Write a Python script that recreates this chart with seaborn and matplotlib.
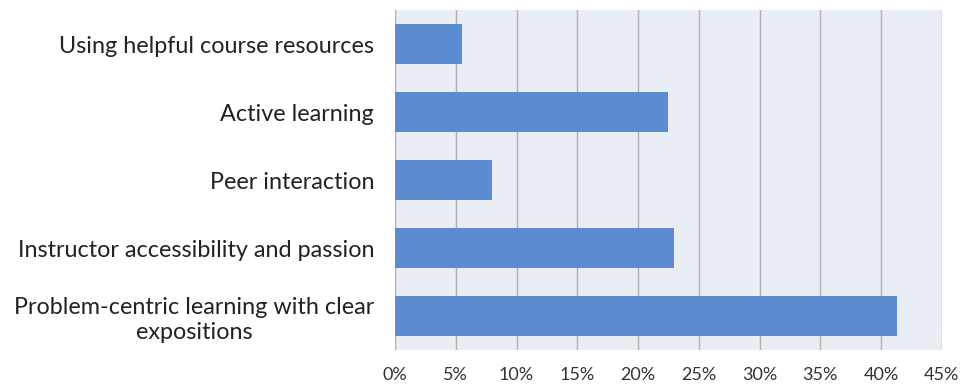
import matplotlib
matplotlib.use("Agg")
import matplotlib.pyplot as plt
import seaborn as sns
import pandas as pd

categories = [
    "Using helpful course resources",
    "Active learning",
    "Peer interaction",
    "Instructor accessibility and passion",
    "Problem-centric learning with clear\nexpositions",
]
values = [5.5, 22.5, 8.0, 23.0, 41.3]
xticks = [0, 5, 10, 15, 20, 25, 30, 35, 40, 45]
xticklabels = [f"{t}%" for t in xticks]

df = pd.DataFrame({"category": categories, "value": values})

sns.set_theme(style="white")
plt.rcParams["font.family"] = ["Lato", "DejaVu Sans"]

fig = plt.figure(figsize=(9.62, 3.89), dpi=100)
ax = fig.add_axes([0.4106, 0.100, 0.979 - 0.4106, 0.874])
ax.set_facecolor("#E9EDF4")

sns.barplot(data=df, x="value", y="category", color="#5B8BD0", saturation=1,
            width=0.59, ax=ax, zorder=3, linewidth=0)

ax.set_xlim(0, 45)
ax.set_ylim(4.5, -0.5)
ax.set_xticks(xticks)
ax.set_xticklabels(xticklabels, fontsize=13, color="#333333")
for t in xticks:
    ax.axvline(t, color="#AEB0B4", lw=1.0, zorder=1)
ax.set_xlabel("")
ax.set_ylabel("")
for lbl in ax.get_yticklabels():
    lbl.set_multialignment("center")
    lbl.set_linespacing(1.2)
ax.tick_params(axis="y", labelsize=16.8, colors="#222222", length=0, pad=15)
ax.tick_params(axis="x", length=0, pad=12)
for s in ax.spines.values():
    s.set_visible(False)

fig.savefig("out.png", dpi=100, facecolor="white")
